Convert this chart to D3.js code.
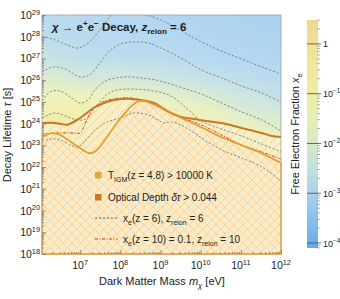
<!DOCTYPE html>
<html>
<head>
<meta charset="utf-8">
<script src="https://cdn.jsdelivr.net/npm/d3@7"></script>
<style>
body { margin: 0; background: #fff; }
svg text { font-family: "Liberation Sans", Arial, sans-serif; fill: #222; }
</style>
</head>
<body>
<div id="chart"></div>
<script>
// all values are log10 of mass [eV] and lifetime [s]
const massTicks = [7, 8, 9, 10, 11, 12];
const lifeTicks = [18, 19, 20, 21, 22, 23, 24, 25, 26, 27, 28, 29];
const xeTicks = [0, -1, -2, -3, -4];

// Optical depth dtau > 0.044 boundary
const odCurve = [[6.05,24.03],[6.38,24.03],[6.5,24.0],[6.68,23.95],[7.0,24.26],[7.33,24.72],[7.68,25.01],[8.01,25.13],[8.2,25.15],[8.51,25.09],[8.84,24.95],[9.01,24.77],[9.26,24.49],[9.51,24.31],[9.84,24.21],[10.14,24.12],[10.52,24.03],[11.02,23.8],[11.52,23.57],[11.77,23.43],[12.0,23.39]];
// T_IGM(z = 4.8) > 10000 K boundary
const tigmCurve = [[6.05,23.35],[6.25,23.55],[6.45,23.52],[6.7,23.25],[6.95,22.93],[7.2,22.65],[7.3,22.65],[7.42,22.79],[7.65,23.34],[7.9,24.0],[8.1,24.45],[8.3,24.85],[8.5,25.05],[8.8,24.92],[9.1,24.65],[9.5,24.28],[10.0,23.85],[10.5,23.39],[11.0,23.02],[11.5,22.65],[12.0,22.19]];
// x_e(z = 10) = 0.1, z_reion = 10
const xe10Curve = [[6.05,23.52],[6.5,23.57],[6.8,23.57],[7.0,23.57],[7.1,23.89],[7.18,24.21],[7.26,24.54],[7.36,24.77],[7.51,24.95],[7.71,25.09],[8.01,25.18],[8.26,25.18],[8.51,25.09],[8.84,24.86],[9.19,24.54],[9.69,24.17],[10.02,23.94],[10.52,23.48],[11.02,23.02],[11.52,22.7],[12.0,22.37]];
// x_e(z = 6) contours, z_reion = 6
const contour1 = [[6.05,28.03],[6.38,27.85],[6.68,27.62],[6.93,27.48],[7.13,27.62],[7.33,27.94],[7.51,28.36],[7.68,28.77],[7.83,29.05],[8.13,29.14],[8.51,29.05],[8.89,28.86],[9.26,28.54],[10.02,27.76],[10.52,27.34],[11.02,26.98],[11.52,26.61],[12.0,26.28]];
const contour2 = [[6.05,26.38],[6.33,26.61],[6.63,26.51],[7.0,26.15],[7.26,26.28],[7.51,26.84],[7.76,27.39],[8.01,27.67],[8.33,27.76],[8.69,27.71],[9.01,27.48],[9.51,27.02],[10.02,26.47],[10.52,26.1],[11.02,25.73],[11.52,25.41],[12.0,25.0]];
const contour3 = [[6.05,25.04],[6.25,25.46],[6.5,25.5],[6.75,25.23],[7.0,24.95],[7.2,25.09],[7.33,25.46],[7.46,25.73],[7.63,25.96],[7.88,26.1],[8.18,26.15],[8.51,26.1],[8.89,26.01],[9.26,25.82],[9.64,25.59],[10.02,25.36],[10.52,24.95],[11.02,24.54],[11.52,24.17],[12.0,23.66]];
const contour4 = [[6.05,24.26],[6.38,24.49],[6.68,24.31],[6.93,24.17],[7.13,24.21],[7.43,24.86],[7.68,25.36],[7.93,25.55],[8.33,25.59],[8.84,25.5],[9.26,25.27],[9.64,24.72],[10.02,24.12],[10.52,23.75],[11.02,23.43],[11.52,23.06],[12.0,22.7]];
const contour5 = [[6.05,23.16],[6.25,23.29],[6.5,23.25],[6.8,22.97],[6.95,22.93],[7.1,23.16],[7.33,23.62],[7.51,23.89],[7.68,24.08],[8.01,24.26],[8.33,24.49],[8.69,24.4],[8.94,24.17],[9.09,24.03],[9.26,24.08],[9.51,23.94],[9.84,23.57],[10.14,23.2],[10.52,22.79],[11.02,22.42],[11.52,22.01],[12.0,21.36]];
const xeContours = [contour1, contour2, contour3, contour4, contour5];

// background: log10 x_e on a coarse grid, one column per mass
const bgMass = [6, 7, 8, 9, 10, 11, 12];
const bgLife = [18, 22, 23, 24, 25, 26, 27, 28, 29];
const bgLogXe = [
  [0.3, 0.2, 0.0, -0.5, -1.1, -1.9, -2.55, -2.85, -2.9],
  [0.3, 0.2, 0.0, -0.5, -1.2, -2.2, -2.8, -2.95, -3.0],
  [0.3, 0.2, 0.0, -0.5, -1.2, -2.2, -2.85, -3.0, -3.05],
  [0.3, 0.2, -0.1, -0.8, -1.5, -2.4, -2.9, -3.05, -3.1],
  [0.3, 0.1, -0.3, -1.0, -1.8, -2.6, -3.0, -3.1, -3.15],
  [0.3, -0.2, -0.9, -1.6, -2.3, -2.8, -3.05, -3.15, -3.2],
  [0.3, -0.5, -1.2, -2.0, -2.6, -2.95, -3.1, -3.2, -3.3]
];

// colour map of the bar
const cbStops = [-4.1, -3.5, -3, -2.5, -2, -1.5, -1, 0, 0.48];
const cbColours = ['#64aae4', '#8ac0ec', '#a9d1ee', '#c2e0dc', '#d6e9c4', '#e7efb2', '#eeeda2', '#f0e292', '#efd690'];

const W = 340, H = 299;
const plot = { left: 42, top: 15, right: 281, bottom: 254 };

const svg = d3.select('#chart').append('svg')
  .attr('width', W)
  .attr('height', H);

const x = d3.scaleLog().domain([Math.pow(10, 6.05), 1e12]).range([plot.left, plot.right]);
const y = d3.scaleLog().domain([1e18, 1e29]).range([plot.bottom, plot.top]);
const colour = d3.scaleLinear().domain(cbStops).range(cbColours).interpolate(d3.interpolateRgb).clamp(true);

const px = d => x(Math.pow(10, d[0]));
const py = d => y(Math.pow(10, d[1]));
const curve = d3.curveCatmullRom.alpha(0.5);
const line = d3.line().x(px).y(py).curve(curve);
const area = d3.area().x(px).y0(plot.bottom).y1(py).curve(curve);

// rich text helper: parts are strings or [text, 'it'|'sub'|'sup'...]
function rich(sel, parts, size) {
  let shift = 0;
  parts.forEach(p => {
    const [txt, kind] = Array.isArray(p) ? p : [p, ''];
    let target = 0;
    if (kind.includes('sub')) target = size * 0.3;
    if (kind.includes('sup')) target = -size * 0.42;
    const ts = sel.append('tspan').text(txt).attr('dy', target - shift);
    shift = target;
    if (target !== 0) ts.attr('font-size', size * 0.7);
    if (kind.includes('it')) ts.attr('font-style', 'italic');
  });
}

const defs = svg.append('defs');
defs.append('clipPath').attr('id', 'clip')
  .append('rect')
  .attr('x', plot.left).attr('y', plot.top)
  .attr('width', plot.right - plot.left).attr('height', plot.bottom - plot.top);

function hatch(id, d) {
  defs.append('pattern')
    .attr('id', id)
    .attr('patternUnits', 'userSpaceOnUse')
    .attr('width', 9).attr('height', 9)
    .append('path')
    .attr('d', d)
    .attr('stroke', '#f2cd96')
    .attr('stroke-width', 0.8);
}
hatch('hatchUp', 'M-2,2L2,-2M0,9L9,0M7,11L11,7');
hatch('hatchDown', 'M-2,7L2,11M0,0L9,9M7,-2L11,2');

// background field
const pw = plot.right - plot.left, ph = plot.bottom - plot.top;
const canvas = document.createElement('canvas');
canvas.width = pw; canvas.height = ph;
const ctx = canvas.getContext('2d');
const img = ctx.createImageData(pw, ph);

function locate(arr, v) {
  let i = d3.bisectRight(arr, v) - 1;
  i = Math.max(0, Math.min(arr.length - 2, i));
  const t = Math.max(0, Math.min(1, (v - arr[i]) / (arr[i + 1] - arr[i])));
  return [i, t];
}

for (let j = 0; j < ph; j++) {
  const lt = Math.log10(y.invert(plot.top + j + 0.5));
  const [li, lf] = locate(bgLife, lt);
  for (let i = 0; i < pw; i++) {
    const lm = Math.log10(x.invert(plot.left + i + 0.5));
    const [mi, mf] = locate(bgMass, lm);
    const a = bgLogXe[mi][li] * (1 - lf) + bgLogXe[mi][li + 1] * lf;
    const b = bgLogXe[mi + 1][li] * (1 - lf) + bgLogXe[mi + 1][li + 1] * lf;
    const c = d3.rgb(colour(a * (1 - mf) + b * mf));
    const k = (j * pw + i) * 4;
    img.data[k] = c.r; img.data[k + 1] = c.g; img.data[k + 2] = c.b; img.data[k + 3] = 255;
  }
}
ctx.putImageData(img, 0, 0);

svg.append('image')
  .attr('x', plot.left).attr('y', plot.top)
  .attr('width', pw).attr('height', ph)
  .attr('preserveAspectRatio', 'none')
  .attr('opacity', 0.82)
  .attr('href', canvas.toDataURL());

const g = svg.append('g').attr('clip-path', 'url(#clip)');

// excluded regions
g.append('path').datum(odCurve).attr('d', area).attr('fill', '#fdf0d4').attr('fill-opacity', 0.55);
g.append('path').datum(tigmCurve).attr('d', area).attr('fill', '#fcebc9').attr('fill-opacity', 0.85);
g.append('path').datum(odCurve).attr('d', area).attr('fill', 'url(#hatchUp)');
g.append('path').datum(tigmCurve).attr('d', area).attr('fill', 'url(#hatchDown)');

// x_e contours
g.selectAll('path.contour')
  .data(xeContours)
  .enter()
  .append('path')
  .attr('class', 'contour')
  .attr('d', line)
  .attr('fill', 'none')
  .attr('stroke', '#7c7c7c')
  .attr('stroke-width', 0.9)
  .attr('stroke-dasharray', '2.2,1.8');

g.append('path').datum(xe10Curve)
  .attr('d', line)
  .attr('fill', 'none')
  .attr('stroke', '#e8302a')
  .attr('stroke-width', 1)
  .attr('stroke-dasharray', '3,1.5,1,1.5');

g.append('path').datum(tigmCurve)
  .attr('d', line)
  .attr('fill', 'none')
  .attr('stroke', '#e2a033')
  .attr('stroke-width', 1.5);

g.append('path').datum(odCurve)
  .attr('d', line)
  .attr('fill', 'none')
  .attr('stroke', '#c8762a')
  .attr('stroke-width', 2);

// frame
svg.append('rect')
  .attr('x', plot.left).attr('y', plot.top)
  .attr('width', pw).attr('height', ph)
  .attr('fill', 'none')
  .attr('stroke', '#a0a0a0')
  .attr('stroke-width', 0.8);

svg.append('path').datum(tigmCurve)
  .attr('d', area)
  .attr('fill', 'none')
  .attr('stroke', '#e2a033')
  .attr('stroke-width', 1.3);

// ticks
const xMajor = massTicks.map(d => Math.pow(10, d));
const xMinor = [];
for (let e = 6; e < 12; e++) for (let k = 2; k <= 9; k++) {
  const v = k * Math.pow(10, e);
  if (v >= x.domain()[0]) xMinor.push(v);
}
const yMajor = lifeTicks.map(d => Math.pow(10, d));
const yMinor = [];
for (let e = 18; e < 29; e++) for (let k = 2; k <= 9; k++) yMinor.push(k * Math.pow(10, e));

function tickAxis(axis, transform) {
  svg.append('g')
    .attr('transform', transform)
    .attr('color', '#8a8a8a')
    .call(axis)
    .call(s => s.select('.domain').remove());
}
tickAxis(d3.axisBottom(x).tickValues(xMinor).tickSize(-2).tickFormat(''), `translate(0,${plot.bottom})`);
tickAxis(d3.axisBottom(x).tickValues(xMajor).tickSize(-4).tickFormat(''), `translate(0,${plot.bottom})`);
tickAxis(d3.axisLeft(y).tickValues(yMinor).tickSize(-2).tickFormat(''), `translate(${plot.left},0)`);
tickAxis(d3.axisLeft(y).tickValues(yMajor).tickSize(-4).tickFormat(''), `translate(${plot.left},0)`);

svg.selectAll('text.xlab')
  .data(massTicks)
  .enter()
  .append('text')
  .attr('class', 'xlab')
  .attr('x', d => x(Math.pow(10, d)))
  .attr('y', 269)
  .attr('text-anchor', 'middle')
  .attr('font-size', 10.5)
  .each(function(d) { rich(d3.select(this), ['10', [String(d), 'sup']], 10.5); });

svg.selectAll('text.ylab')
  .data(lifeTicks)
  .enter()
  .append('text')
  .attr('class', 'ylab')
  .attr('x', 40)
  .attr('y', d => y(Math.pow(10, d)) + 4)
  .attr('text-anchor', 'end')
  .attr('font-size', 10.5)
  .each(function(d) { rich(d3.select(this), ['10', [String(d), 'sup']], 10.5); });

// axis titles
rich(svg.append('text')
  .attr('x', 162).attr('y', 285)
  .attr('text-anchor', 'middle')
  .attr('font-size', 11),
  ['Dark Matter Mass ', ['m', 'it'], ['χ', 'sub it'], ' [eV]'], 11);

rich(svg.append('text')
  .attr('transform', 'rotate(-90)')
  .attr('x', -135).attr('y', 11)
  .attr('text-anchor', 'middle')
  .attr('font-size', 11),
  ['Decay Lifetime ', ['τ', 'it'], ' [s]'], 11);

// title
rich(svg.append('text')
  .attr('x', 52).attr('y', 31)
  .attr('font-size', 11.5)
  .attr('font-weight', 'bold'),
  [['χ', 'it'], ' → e', ['+', 'sup'], 'e', ['−', 'sup'], ' Decay, ', ['z', 'it'], ['reion', 'sub'], ' = 6'], 11.5);

// legend
const legendX = 95;
svg.append('rect').attr('x', legendX).attr('y', 172).attr('width', 6.5).attr('height', 6.5).attr('fill', '#e3a83c');
svg.append('rect').attr('x', legendX).attr('y', 194).attr('width', 6.5).attr('height', 6.5).attr('fill', '#c8782a');
svg.append('line').attr('x1', 95).attr('x2', 118).attr('y1', 218).attr('y2', 218)
  .attr('stroke', '#555').attr('stroke-width', 0.9).attr('stroke-dasharray', '2.2,1.8');
svg.append('line').attr('x1', 95).attr('x2', 118).attr('y1', 239).attr('y2', 239)
  .attr('stroke', '#e8302a').attr('stroke-width', 1).attr('stroke-dasharray', '3,1.5,1,1.5');

rich(svg.append('text').attr('x', 108).attr('y', 179).attr('font-size', 10),
  ['T', ['IGM', 'sub'], '(z = 4.8) > 10000 K'], 10);
rich(svg.append('text').attr('x', 108).attr('y', 201).attr('font-size', 10),
  ['Optical Depth ', ['δτ', 'it'], ' > 0.044'], 10);
rich(svg.append('text').attr('x', 123).attr('y', 222).attr('font-size', 10),
  ['x', ['e', 'sub'], '(z = 6), z', ['reion', 'sub'], ' = 6'], 10);
rich(svg.append('text').attr('x', 123).attr('y', 243).attr('font-size', 10),
  ['x', ['e', 'sub'], '(z = 10) = 0.1, z', ['reion', 'sub'], ' = 10'], 10);

// colour bar
const cb = { left: 307, right: 318, top: 20, bottom: 248 };
const cy = d3.scaleLinear().domain([cbStops[0], cbStops[cbStops.length - 1]]).range([cb.bottom, cb.top]);
const grad = defs.append('linearGradient')
  .attr('id', 'cbGrad')
  .attr('x1', 0).attr('y1', 1).attr('x2', 0).attr('y2', 0);
grad.selectAll('stop')
  .data(cbStops)
  .enter()
  .append('stop')
  .attr('offset', d => (d - cbStops[0]) / (cbStops[cbStops.length - 1] - cbStops[0]))
  .attr('stop-color', d => colour(d));

svg.append('rect')
  .attr('x', cb.left).attr('y', cb.top)
  .attr('width', cb.right - cb.left).attr('height', cb.bottom - cb.top)
  .attr('fill', 'url(#cbGrad)');

const cbMinor = [];
for (let e = -5; e < 1; e++) for (let k = 2; k <= 9; k++) {
  const v = e + Math.log10(k);
  if (v > cbStops[0] && v < cbStops[cbStops.length - 1]) cbMinor.push(v);
}
svg.selectAll('line.cbminor')
  .data(cbMinor)
  .enter()
  .append('line')
  .attr('class', 'cbminor')
  .attr('x1', cb.right - 1).attr('x2', cb.right + 2)
  .attr('y1', d => cy(d)).attr('y2', d => cy(d))
  .attr('stroke', '#777').attr('stroke-width', 0.6);

svg.selectAll('line.cbmajor')
  .data(xeTicks)
  .enter()
  .append('line')
  .attr('class', 'cbmajor')
  .attr('x1', cb.left).attr('x2', cb.right + 3)
  .attr('y1', d => cy(d)).attr('y2', d => cy(d))
  .attr('stroke', '#555').attr('stroke-width', 0.9);

svg.selectAll('text.cblab')
  .data(xeTicks)
  .enter()
  .append('text')
  .attr('class', 'cblab')
  .attr('x', 323)
  .attr('y', d => cy(d) + 3.5)
  .attr('font-size', 9)
  .each(function(d) {
    if (d === 0) d3.select(this).text('1');
    else rich(d3.select(this), ['10', ['−' + Math.abs(d), 'sup']], 9);
  });

rich(svg.append('text')
  .attr('transform', 'rotate(-90)')
  .attr('x', -134).attr('y', 299)
  .attr('text-anchor', 'middle')
  .attr('font-size', 11),
  ['Free Electron Fraction ', ['x', 'it'], ['e', 'sub']], 11);
</script>
</body>
</html>
